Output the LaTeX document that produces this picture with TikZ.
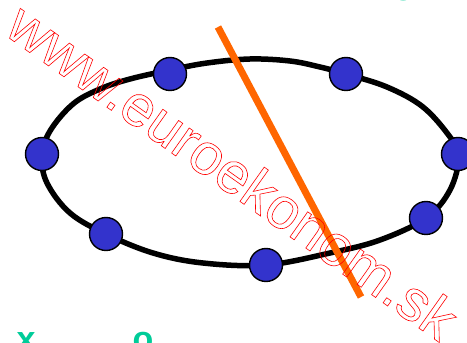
\documentclass[tikz,border=0pt]{standalone}
\usepackage{fontspec}
\setmainfont{Liberation Sans}
\begin{document}
\begin{tikzpicture}[x=1pt,y=1pt]
\definecolor{dotblue}{RGB}{51,51,204}
\definecolor{lineorange}{RGB}{255,102,0}
\definecolor{slidegreen}{RGB}{0,204,153}
\tikzset{
  dotnode/.style={circle,draw=black,line width=1.4pt,fill=dotblue,minimum size=33pt,inner sep=0pt},
  ring/.style={line width=5.5pt,black},
  cutline/.style={line width=7pt,lineorange},
  glyph/.style={text=slidegreen,inner sep=0pt,font=\bfseries\fontsize{34}{36}\selectfont},
  watermark/.style={text=red,inner sep=0pt,font=\fontsize{58}{60}\selectfont}
}
\useasboundingbox (0,0) rectangle (467,343);
\begin{scope}
  \clip (0,0) rectangle (467,343);
  \node[glyph,anchor=base] (gx) at (26,-8) {x};
  \node[glyph,anchor=base] (go) at (143,-8) {o};
  \node[glyph,anchor=base,font=\bfseries\fontsize{40}{42}\selectfont] (gt) at (404,342) {o};
\end{scope}
\draw[ring] plot[smooth cycle, tension=0.6] coordinates {
  (42,187) (50,212) (73,239) (100,254) (130,264) (170,273) (207,280) (250,284)
  (290,282) (320,276) (346,269) (387,256) (423,236) (450,206) (459,187)
  (450,153) (426,125) (380,103) (330,90) (266,78) (203,80) (153,90)
  (106,109) (70,130) (47,160)};
\node[dotnode] (n1) at (170,269) {};
\node[dotnode] (n2) at (346,269) {};
\node[dotnode] (n3) at (42,189) {};
\node[dotnode] (n4) at (458,189) {};
\node[dotnode] (n5) at (106,109) {};
\node[dotnode] (n6) at (426,125) {};
\node[dotnode] (n7) at (266,78) {};
\coordinate (o1) at (218,316);
\coordinate (o2) at (361,46);
\draw[cutline] (o1) -- (o2);
\node[watermark,anchor=base,rotate=-35.3] (wm) at (221,155)
  {\special{pdf:literal direct q 1 Tr 0.6 w}www.euroekonom.sk\special{pdf:literal direct Q}};
\end{tikzpicture}
\end{document}
